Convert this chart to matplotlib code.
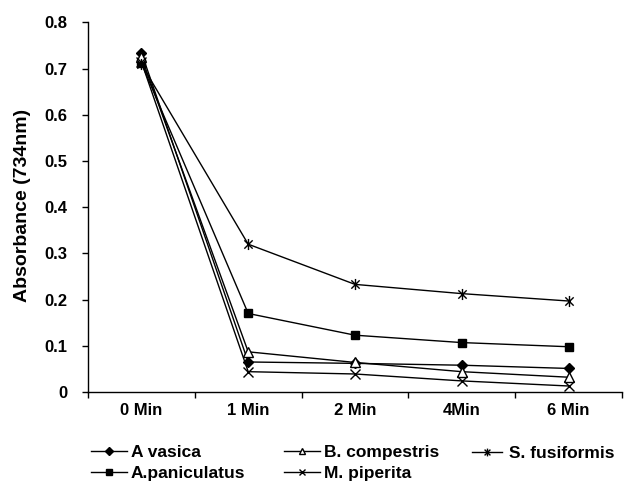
import matplotlib
matplotlib.use("Agg")
import matplotlib.pyplot as plt
from matplotlib.path import Path

categories = ["0 Min", "1 Min", "2 Min", "4Min", "6 Min"]
a_vasica = [0.735, 0.065, 0.062, 0.058, 0.051]
a_paniculatus = [0.712, 0.170, 0.123, 0.107, 0.098]
b_compestris = [0.725, 0.087, 0.064, 0.044, 0.032]
m_piperita = [0.715, 0.044, 0.039, 0.024, 0.013]
s_fusiformis = [0.710, 0.320, 0.233, 0.213, 0.197]
y_ticks = [0, 0.1, 0.2, 0.3, 0.4, 0.5, 0.6, 0.7, 0.8]
y_ticklabels = ["0", "0.1", "0.2", "0.3", "0.4", "0.5", "0.6", "0.7", "0.8"]

plt.rcParams['font.family'] = ['Liberation Sans', 'DejaVu Sans']
plt.rcParams['font.weight'] = 'bold'

star = Path([(0, -1), (0, 1), (-0.75, -0.75), (0.75, 0.75), (-0.75, 0.75), (0.75, -0.75)],
            [Path.MOVETO, Path.LINETO, Path.MOVETO, Path.LINETO, Path.MOVETO, Path.LINETO])

fig = plt.figure(figsize=(6.25, 4.84), dpi=100)
ax = fig.add_axes([88/625, 1-392/484, (622-88)/625, (392-22.5)/484])

x = list(range(len(categories)))
kw = dict(color='black', lw=1.0)
h1, = ax.plot(x, a_vasica, marker='D', ms=5.5, mfc='black', mec='black', label='A vasica', **kw)
h2, = ax.plot(x, a_paniculatus, marker='s', ms=6, mfc='black', mec='black', label='A.paniculatus', **kw)
h3, = ax.plot(x, b_compestris, marker='^', ms=7, mfc='white', mec='black', mew=1.0, label='B. compestris', **kw)
h4, = ax.plot(x, m_piperita, marker='x', ms=7, mec='black', mew=1.0, label='M. piperita', **kw)
h5, = ax.plot(x, s_fusiformis, marker=star, ms=8, mec='black', mew=1.0, label='S. fusiformis', **kw)

ax.set_xlim(-0.5, len(categories) - 0.5)
ax.set_ylim(0, 0.8)
ax.set_yticks(y_ticks)
ax.set_yticklabels(y_ticklabels, fontsize=12, fontweight='bold')
ax.set_xticks(x)
ax.set_xticklabels(categories, fontsize=12, fontweight='bold')
ax.set_xticks([i - 0.5 for i in range(len(categories) + 1)], minor=True)
ax.tick_params(axis='x', which='major', length=0, pad=8)
ax.tick_params(axis='x', which='minor', length=4, direction='out', width=1)
ax.tick_params(axis='y', which='major', length=4, direction='out', width=1, pad=11)
for s in ['top', 'right']:
    ax.spines[s].set_visible(False)
for s in ['left', 'bottom']:
    ax.spines[s].set_linewidth(1.0)

fig.text(23/625, 1 - 205/484, "Absorbance (734nm)", rotation=90, ha='center', va='center',
         fontsize=14, fontweight='bold')

common = dict(frameon=False, labelspacing=0.3, markerscale=0.7,
              borderaxespad=0, borderpad=0, prop={'weight': 'bold', 'size': 12.5})
leg1 = fig.legend([h1, h2], ['A vasica', 'A.paniculatus'], loc='center left',
                  bbox_to_anchor=(91/625, 1 - 463/484), handlelength=2.1, handletextpad=0.2, **common)
leg2 = fig.legend([h3, h4], ['B. compestris', 'M. piperita'], loc='center left',
                  bbox_to_anchor=(284/625, 1 - 463/484), handlelength=2.1, handletextpad=0.2, **common)
leg3 = fig.legend([h5], ['S. fusiformis'], loc='center left',
                  bbox_to_anchor=(472/625, 1 - 453/484), handlelength=1.75, handletextpad=0.4, **common)

fig.savefig("out.png", dpi=100)
